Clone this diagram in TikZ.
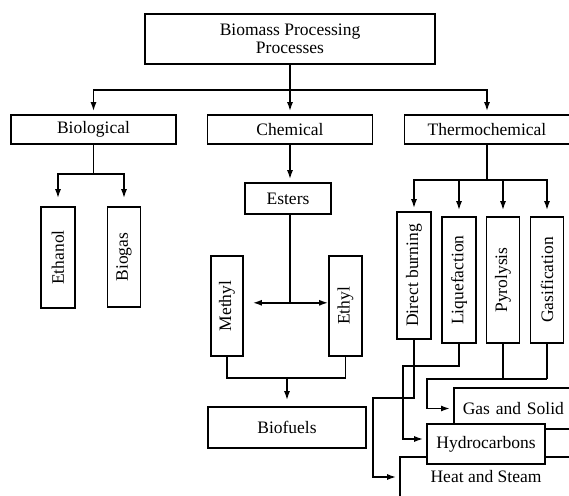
\documentclass[tikz,border=0pt]{standalone}
\usepackage{fontspec}
\setmainfont{Liberation Serif}
\usetikzlibrary{arrows.meta}
\begin{document}
\begin{tikzpicture}[x=1pt,y=-1pt]
\tikzset{box/.style={draw, line width=1.6pt, fill=white, inner sep=0pt, align=center, font=\fontsize{17.5}{18}\selectfont}}
\tikzset{link/.style={line width=1.6pt}}
\tikzset{arrow/.style={link, -{Latex[length=9pt,width=6pt]}, shorten >=3pt}}
\useasboundingbox (0,0) rectangle (569,495);
\clip (0,0) rectangle (569,495);
\node[box, minimum width=290, minimum height=50] (biomass) at (290,39) {Biomass Processing\\Processes};
\node[box, minimum width=165, minimum height=29] (bio) at (93.5,129.5) {Biological};
\node[box, minimum width=165, minimum height=29] (chem) at (290,129.5) {Chemical};
\node[box, minimum width=165, minimum height=29] (thermo) at (487,129.5) {Thermochemical};
\node[box, minimum width=34, minimum height=101] (ethanol) at (58,257.5) {\rotatebox{90}{Ethanol}};
\node[box, minimum width=33, minimum height=100] (biogas) at (124,257) {\rotatebox{90}{Biogas}};
\node[box, minimum width=86, minimum height=31] (esters) at (288,198.5) {Esters};
\node[box, minimum width=32, minimum height=100] (methyl) at (227,306) {\rotatebox{90}{Methyl}};
\node[box, minimum width=33, minimum height=100] (ethyl) at (345.5,306) {\rotatebox{90}{Ethyl}};
\node[box, minimum width=158, minimum height=41] (biofuels) at (287,427.5) {Biofuels};
\node[box, minimum width=34, minimum height=127] (burning) at (414,275.5) {\rotatebox{90}{Direct burning}};
\node[box, minimum width=34, minimum height=126] (liquefaction) at (459,280) {\rotatebox{90}{Liquefaction}};
\node[box, minimum width=33, minimum height=126] (pyrolysis) at (503,280) {\rotatebox{90}{Pyrolysis}};
\node[box, minimum width=33, minimum height=126] (gasification) at (547,280) {\rotatebox{90}{Gasification}};
\node[box, anchor=west, minimum height=41, text width=132, inner xsep=9, align=left] (gas) at (453,408.5) {Gas and Solid};
\node[box, minimum width=172, minimum height=40] (heat) at (486,477) {Heat and Steam};
\node[box, minimum width=118, minimum height=40] (hydro) at (486,444) {Hydrocarbons};
\draw[link] (biomass.south) -- ++(0,25) coordinate (split);
\draw[arrow] (split) -| (bio.north);
\draw[arrow] (split) -- (chem.north);
\draw[arrow] (split) -| (thermo.north);
\draw[link] (bio.south) -- ++(0,29) coordinate (biosplit);
\draw[arrow, shorten >=8pt] (biosplit) -| (ethanol.north);
\draw[arrow, shorten >=8pt] (biosplit) -| (biogas.north);
\draw[arrow] (chem.south) -- (chem.south |- esters.north);
\draw[link] (esters.south -| chem.south) -- ++(0,88) coordinate (esplit);
\draw[arrow, shorten >=9pt] (esplit) -- (esplit -| methyl.east);
\draw[arrow, shorten >=0pt] (esplit) -- (esplit -| ethyl.west);
\draw[link] (methyl.south) -- ++(0,21) coordinate (mbend) -| (ethyl.south);
\draw[arrow, shorten >=6pt] (mbend -| biofuels.north) -- (biofuels.north);
\draw[link] (thermo.south) -- ++(0,35) coordinate (tsplit);
\draw[arrow] (tsplit) -| (burning.north);
\draw[arrow, shorten >=6pt] (tsplit) -| (liquefaction.north);
\draw[arrow, shorten >=6pt] (tsplit) -| (pyrolysis.north);
\draw[arrow, shorten >=6pt] (tsplit) -| (gasification.north);
\draw[arrow] (burning.south) -- ++(0,58) -| ([xshift=-26]heat.west) -- (heat.west);
\draw[arrow] (liquefaction.south) -- ++(0,22) -| ([xshift=-23,yshift=5]hydro.west) -- ([yshift=5]hydro.west);
\draw[link] (gasification.south) -- ++(0,35) coordinate (gbend);
\draw[link] (pyrolysis.south) -- (pyrolysis.south |- gbend);
\draw[arrow] (gbend) -| ([xshift=-26]gas.west) -- (gas.west);
\end{tikzpicture}
\end{document}
